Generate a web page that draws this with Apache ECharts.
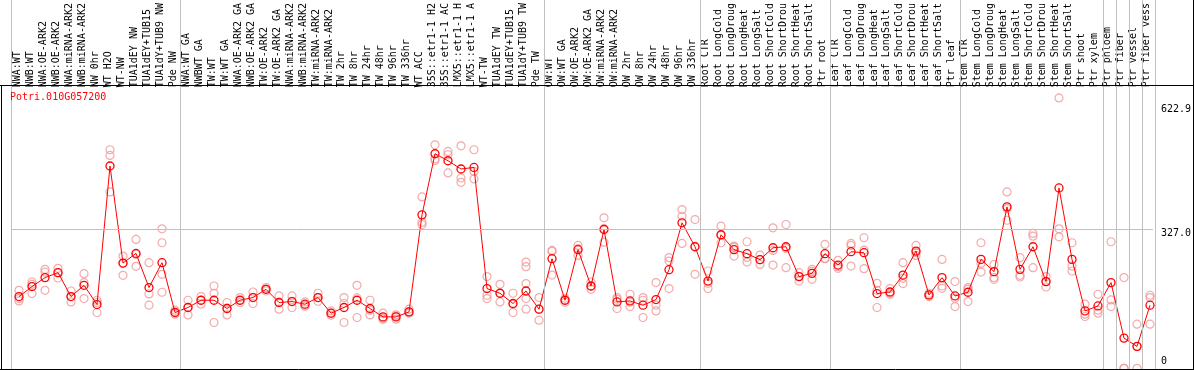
<!DOCTYPE html>
<html><head><meta charset="utf-8">
<script src="https://cdn.jsdelivr.net/npm/echarts@6/dist/echarts.min.js"></script>
<style>html,body{margin:0;padding:0;background:#fff;overflow:hidden}#c{width:1194px;height:370px}</style>
</head><body><div id="c"></div>
<script>
const geneName = 'Potri.010G057200';
const categories = [
'NWA:WT','NWB:WT','NWA:OE-ARK2','NWB:OE-ARK2','NWA:miRNA-ARK2','NWB:miRNA-ARK2','NW 0hr','WT H2O','WT-NW','TUA1dEY NW','TUA1dEY+TUB15','TUA1dY+TUB9 NW','Pde NW',
'NWA:WT GA','NWBWT GA','TW:WT','TW:WT GA','NWA:OE-ARK2 GA','NWB:OE-ARK2 GA','TW:OE-ARK2','TW:OE-ARK2 GA','NWA:miRNA-ARK2','NWB:miRNA-ARK2','TW:miRNA-ARK2','TW:miRNA-ARK2','TW 2hr','TW 8hr','TW 24hr','TW 48hr','TW 96hr','TW 336hr','WT ACC','35S::etr1-1 H2','35S::etr1-1 AC','LMX5::etr1-1 H','LMX5::etr1-1 A','WT-TW','TUA1dEY TW','TUA1dEY+TUB15','TUA1dY+TUB9 TW','Pde TW',
'OW:WT','OW:WT GA','OW:OE-ARK2','OW:OE-ARK2 GA','OW:miRNA-ARK2','OW:miRNA-ARK2','OW 2hr','OW 8hr','OW 24hr','OW 48hr','OW 96hr','OW 336hr',
'Root CTR','Root LongCold','Root LongDroug','Root LongHeat','Root LongSalt','Root ShortCold','Root ShortDrou','Root ShortHeat','Root ShortSalt','Ptr root',
'Leaf CTR','Leaf LongCold','Leaf LongDroug','Leaf LongHeat','Leaf LongSalt','Leaf ShortCold','Leaf ShortDrou','Leaf ShortHeat','Leaf ShortSalt','Ptr leaf',
'Stem CTR','Stem LongCold','Stem LongDroug','Stem LongHeat','Stem LongSalt','Stem ShortCold','Stem ShortDrou','Stem ShortHeat','Stem ShortSalt','Ptr shoot','Ptr xylem',
'Ptr phloem','Ptr fiber','Ptr vessel','Ptr fiber vess'
];
const means = [
168.1,191.0,211.5,222.9,168.1,193.9,149.9,467.0,244.8,266.9,188.7,245.7,131.6,
143.1,159.7,159.7,140.8,159.7,165.9,184.8,154.5,156.7,150.6,165.9,130.0,143.1,159.7,140.8,121.6,121.6,133.0,355.2,495.1,479.1,460.2,463.8,186.4,175.7,152.2,180.9,139.2,
254.8,159.7,275.4,192.3,321.7,155.8,158.1,148.3,161.3,229.7,337.0,282.2,
203.7,309.6,275.4,266.3,252.6,279.9,282.2,213.8,221.3,266.3,
240.2,270.8,268.5,175.0,178.6,217.4,272.2,171.8,211.5,169.5,
178.0,253.2,225.2,373.5,230.4,282.2,202.4,416.8,253.2,135.3,146.7,
200.1,73.0,54.1,148.3];
const repA = [
182.5,201.5,230.4,232.7,180.9,220.6,159.7,504.2,260.8,298.9,245.7,323.3,136.9,
159.7,168.1,192.3,154.5,165.9,178.6,188.7,169.5,169.5,155.8,175.7,135.3,165.9,193.9,159.7,130.0,126.2,139.2,396.3,515.6,500.3,513.3,504.2,213.8,196.2,175.7,247.1,165.9,
273.8,164.3,285.2,201.5,348.4,165.9,173.4,165.9,200.1,257.1,367.3,344.5,
226.6,329.2,283.6,293.6,263.1,325.6,333.1,222.9,230.4,287.5,
251.0,289.8,302.8,198.5,186.4,245.7,285.2,175.7,253.2,202.4,
188.7,291.3,241.8,407.7,257.1,312.6,213.8,622.9,291.3,150.6,173.4,
293.6,211.5,104.9,171.1];
const repB = [
163.6,196.2,224.3,222.9,168.1,200.1,154.5,491.2,244.1,264.7,174.1,291.3,132.3,
143.7,159.7,175.7,141.5,159.7,166.5,184.8,155.1,157.4,148.3,165.9,130.0,152.2,165.0,136.9,118.6,123.2,133.5,338.3,483.7,492.8,439.6,454.7,171.1,175.7,150.6,236.6,139.2,
271.5,159.7,277.7,191.6,324.0,162.0,155.1,159.7,148.3,249.4,352.0,282.9,
198.5,308.0,280.6,257.8,253.2,273.8,278.3,214.5,225.9,255.5,
236.6,285.2,274.5,182.5,175.7,209.9,268.5,171.1,192.3,164.3,
184.8,244.1,211.5,369.6,216.7,306.4,203.1,323.3,238.0,127.8,136.9,
160.4,3.9,53.4,165.9];
const repC = [
158.1,175.0,182.5,210.6,155.8,163.6,131.6,407.7,216.7,237.3,148.3,219.0,127.8,
126.2,150.6,108.8,126.2,154.5,152.2,180.9,139.2,143.1,146.0,157.4,125.5,108.8,120.2,126.2,116.4,116.4,130.0,333.1,479.8,451.1,429.6,437.4,163.6,155.8,131.6,139.2,114.1,
217.4,155.1,262.4,184.8,292.7,140.8,145.3,120.2,135.3,186.4,289.8,219.0,
186.4,291.3,260.8,247.1,241.8,240.2,234.3,203.7,207.6,254.8,
232.7,238.0,232.0,143.1,173.4,197.8,262.4,168.1,187.1,145.3,
156.7,224.3,207.6,342.9,212.9,234.3,190.0,305.0,226.6,122.5,130.0,
145.3,3.9,3.9,104.9];
// extra replicates: [category index, value]
const extraReps = [[11, 178.0], [39, 197.8], [39, 163.6]];
const groupBounds = [0, 13, 41, 53, 63, 73, 84, 85, 86, 87, 88];
const yLabelValues = [0, 327.0, 622.9];
const midLineValue = 327.0;
const yMax = 650.2;

const FONT = 'DejaVu Sans Mono';
const RED = '#ff0000';
const PINK = '#f09696';
const GRAY = '#c0c0c0';

const repData = [];
categories.forEach((c, i) => {
  [repA[i], repB[i], repC[i]].forEach(v => { if (v != null) repData.push([i, v]); });
});
extraReps.forEach(p => repData.push(p));

const chart = echarts.init(document.getElementById('c'), null, {renderer: 'canvas'});
chart.setOption({
  animation: false,
  backgroundColor: '#ffffff',
  title: {
    text: geneName, left: 10, top: 92, padding: 0,
    textStyle: {color: RED, fontFamily: FONT, fontSize: 10, fontWeight: 'normal'}
  },
  grid: [
    {left: 11, width: 1144, top: 86, height: 285},
    {left: 11.5, width: 1144, top: 0, height: 370},
    {left: 12.5, width: 1144, top: 86, height: 285}
  ],
  xAxis: [
    {
      type: 'category', gridIndex: 0, position: 'top', data: categories, boundaryGap: true,
      axisLine: {show: false}, axisTick: {show: false}, splitLine: {show: false},
      axisLabel: {interval: 0, rotate: 90, margin: 2, color: '#000', fontFamily: FONT, fontSize: 10}
    },
    {type: 'value', gridIndex: 1, min: 0, max: 88, show: false},
    {type: 'category', gridIndex: 2, data: categories, boundaryGap: true, show: false}
  ],
  yAxis: [
    {
      type: 'value', gridIndex: 0, min: 0, max: yMax, position: 'right',
      axisLine: {show: false}, axisTick: {show: false}, splitLine: {show: false},
      axisLabel: {
        customValues: yLabelValues, margin: 8, verticalAlign: 'middle', align: 'left',
        color: '#000', fontFamily: FONT, fontSize: 10,
        formatter: (v) => {
          const t = v === 0 ? '0' : v.toFixed(1);
          const k = v === 0 ? 'bot' : (v >= 600 ? 'top' : 'mid');
          return '{' + k + '|' + t + '}';
        },
        rich: {
          top: {fontFamily: FONT, fontSize: 10, color: '#000', padding: [16, 0, 0, 0]},
          mid: {fontFamily: FONT, fontSize: 10, color: '#000', padding: [9, 0, 0, 0]},
          bot: {fontFamily: FONT, fontSize: 10, color: '#000', padding: [0, 0, 18, 0]}
        }
      }
    },
    {type: 'value', gridIndex: 1, min: 0, max: 1, show: false},
    {type: 'value', gridIndex: 2, min: 0, max: yMax, show: false}
  ],
  series: [
    {
      type: 'line', xAxisIndex: 1, yAxisIndex: 1, data: [], silent: true, z: 1,
      markLine: {
        silent: true, symbol: 'none', label: {show: false},
        lineStyle: {color: GRAY, width: 1, type: 'solid'},
        data: groupBounds.map(b => ({xAxis: b}))
      }
    },
    {
      type: 'line', xAxisIndex: 0, yAxisIndex: 0, data: [], silent: true, z: 1,
      markLine: {
        silent: true, symbol: 'none', label: {show: false},
        lineStyle: {color: GRAY, width: 1, type: 'solid'},
        data: [{yAxis: midLineValue}]
      }
    },
    {
      type: 'scatter', xAxisIndex: 2, yAxisIndex: 2, data: repData, z: 3,
      symbol: 'circle', symbolSize: 8,
      itemStyle: {color: 'rgba(0,0,0,0)', borderColor: PINK, borderWidth: 1.2}
    },
    {
      type: 'line', xAxisIndex: 2, yAxisIndex: 2, data: means, z: 4,
      showAllSymbol: true, symbol: 'circle', symbolSize: 8,
      lineStyle: {color: RED, width: 1},
      itemStyle: {color: 'rgba(0,0,0,0)', borderColor: RED, borderWidth: 1.3}
    }
  ],
  graphic: [
    {type: 'line', z: 100, shape: {x1: 0, y1: 85.5, x2: 1194, y2: 85.5}, style: {stroke: '#000', lineWidth: 1}},
    {type: 'line', z: 100, shape: {x1: 1.5, y1: 85.5, x2: 1.5, y2: 370}, style: {stroke: '#000', lineWidth: 1}},
    {type: 'line', z: 100, shape: {x1: 0, y1: 369.5, x2: 1194, y2: 369.5}, style: {stroke: '#000', lineWidth: 1}},
    {type: 'line', z: 100, shape: {x1: 1193.5, y1: 0, x2: 1193.5, y2: 370}, style: {stroke: '#000', lineWidth: 1}}
  ]
});
</script>
</body></html>
